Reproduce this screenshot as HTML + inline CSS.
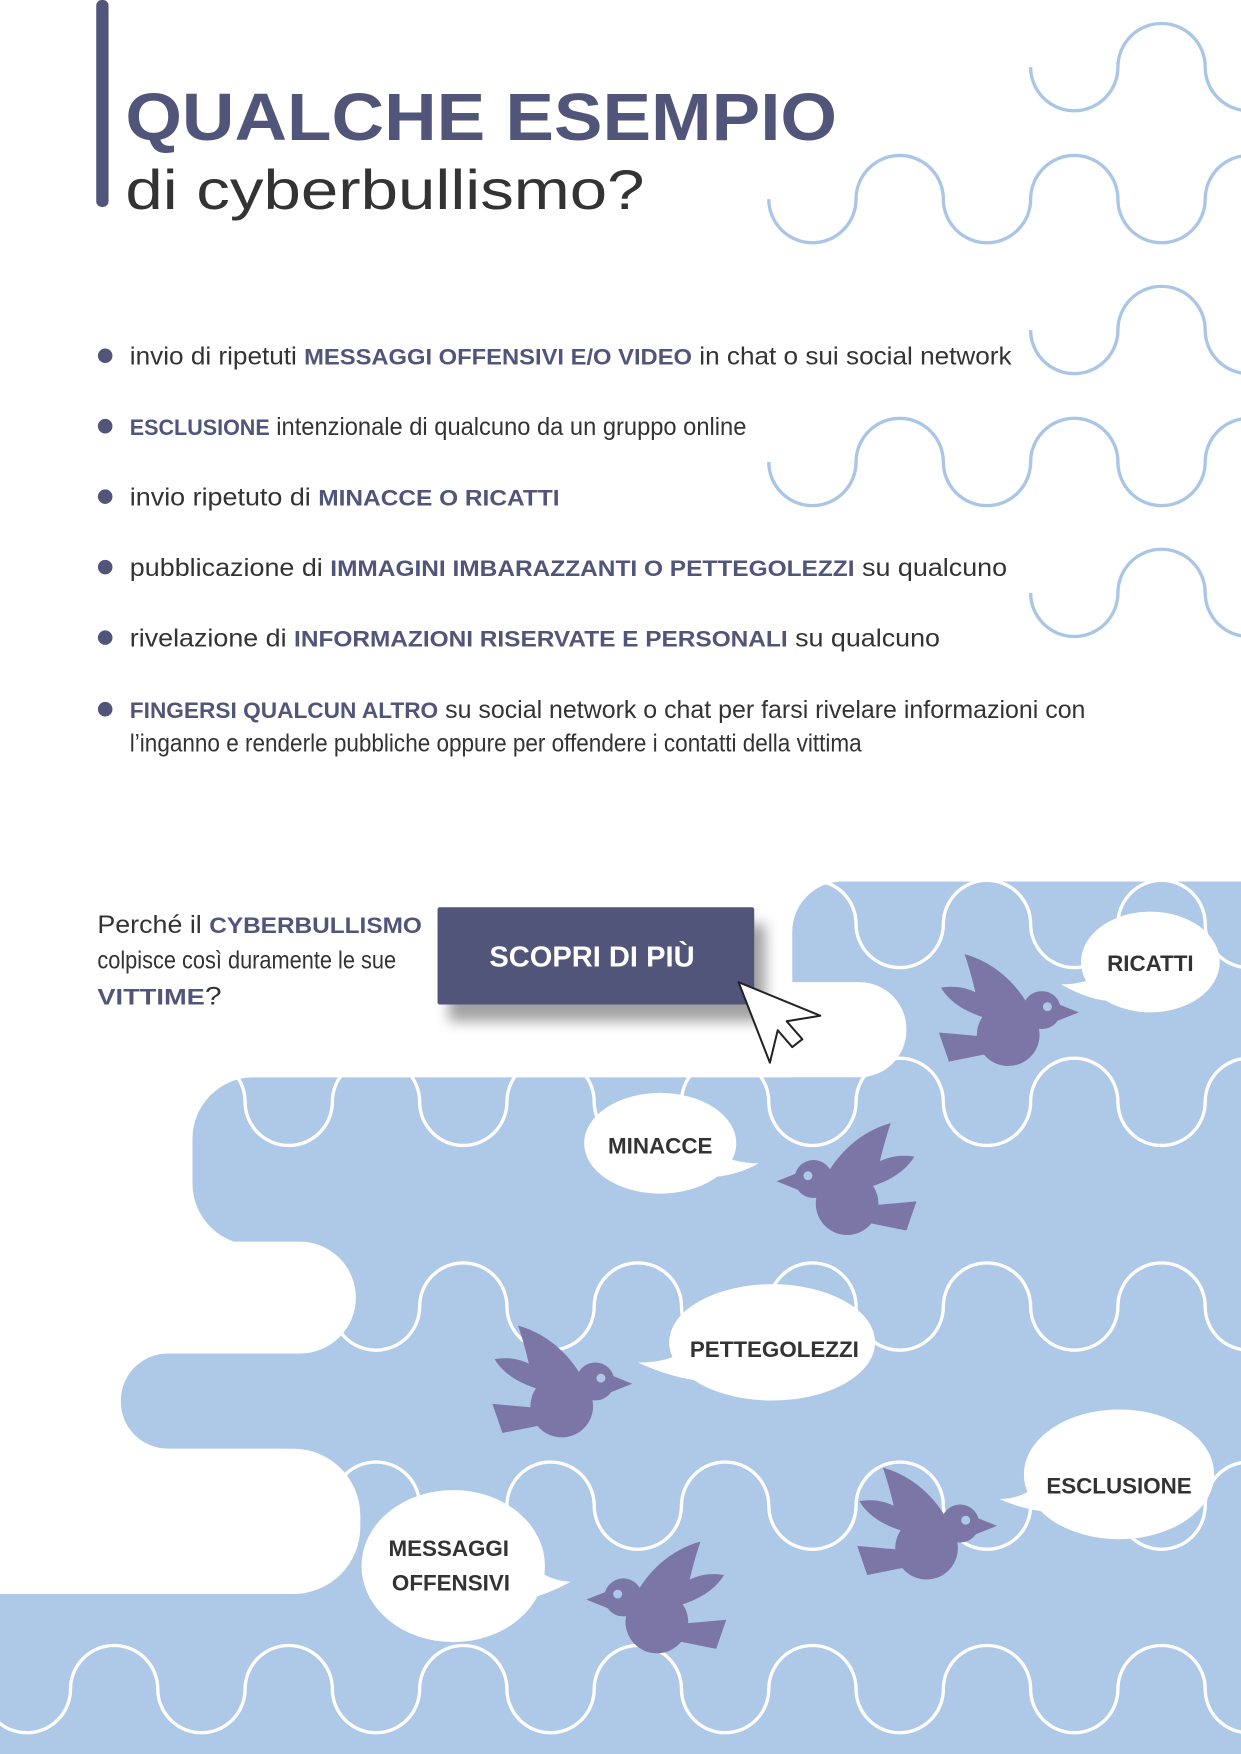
<!DOCTYPE html>
<html><head><meta charset="utf-8"><style>
html,body{margin:0;padding:0;background:#fff}
svg{display:block}
.t{font-family:"Liberation Sans Narrow","Liberation Sans",sans-serif;font-size:22px;fill:#333}
.b{font-family:"Liberation Sans",sans-serif;font-weight:bold;fill:#52557a;font-size:20px}
.bl{font-family:"Liberation Sans",sans-serif;font-weight:bold;fill:#333;font-size:20px;text-anchor:middle}
</style></head><body>
<svg width="1241" height="1754" viewBox="0 0 1109 1568" preserveAspectRatio="none" xmlns="http://www.w3.org/2000/svg">
<defs>
<mask id="m" maskUnits="userSpaceOnUse" x="0" y="700" width="1109" height="900">
<rect x="708" y="788" width="500" height="260" rx="45" fill="#fff"/>
<rect x="172" y="963" width="1100" height="150" rx="55" fill="#fff"/>
<rect x="250" y="1050" width="900" height="600" fill="#fff"/>
<rect x="0" y="1425" width="1109" height="200" fill="#fff"/>
<rect x="-100" y="878" width="910" height="85" rx="42" fill="#000"/>
<rect x="-100" y="1110" width="418" height="100" rx="50" fill="#000"/>
<rect x="-100" y="1295" width="422" height="130" rx="60" fill="#000"/>
<rect x="108" y="1210" width="400" height="85" rx="42" fill="#fff"/>
</mask>
<g id="bird">
<circle cx="65" cy="72" r="28"/>
<circle cx="95" cy="50" r="17"/>
<path d="M108,44 L128,52 L108,60 Z"/>
<path d="M40,55 C35,28 30,12 26,0 C55,8 76,30 86,52 Z"/>
<path d="M48,58 C26,52 12,42 5,30 C22,27 38,32 52,46 Z"/>
<path d="M48,74 L3,70 L12,96 L52,88 Z"/>
<circle cx="100" cy="47" r="4" fill="#aec8e7"/>
</g>
<filter id="sh" x="-20%" y="-20%" width="150%" height="170%"><feGaussianBlur stdDeviation="6"/></filter>
</defs>

<!-- header -->
<rect x="86" y="0" width="11" height="185" rx="5" fill="#52557a"/>
<text x="112" y="125" font-family="Liberation Sans,sans-serif" font-weight="bold" font-size="60" fill="#52557a" textLength="636" lengthAdjust="spacingAndGlyphs">QUALCHE ESEMPIO</text>
<text x="112" y="187" font-family="Liberation Sans,sans-serif" font-size="50" fill="#333" textLength="464" lengthAdjust="spacingAndGlyphs">di cyberbullismo?</text>

<!-- top waves -->
<g fill="none" stroke="#aac6e6" stroke-width="3">
<path d="M921 60 a39 39 0 0 0 78 0 a39 39 0 0 1 78 0 a39 39 0 0 0 78 0"/>
<path d="M687 178 a39 39 0 0 0 78 0 a39 39 0 0 1 78 0 a39 39 0 0 0 78 0 a39 39 0 0 1 78 0 a39 39 0 0 0 78 0 a39 39 0 0 1 78 0"/>
<path d="M921 295 a39 39 0 0 0 78 0 a39 39 0 0 1 78 0 a39 39 0 0 0 78 0"/>
<path d="M687 413 a39 39 0 0 0 78 0 a39 39 0 0 1 78 0 a39 39 0 0 0 78 0 a39 39 0 0 1 78 0 a39 39 0 0 0 78 0 a39 39 0 0 1 78 0"/>
<path d="M921 530 a39 39 0 0 0 78 0 a39 39 0 0 1 78 0 a39 39 0 0 0 78 0"/>
</g>

<!-- bullets -->
<g fill="#52557a">
<circle cx="94" cy="318" r="6.5"/><circle cx="94" cy="381" r="6.5"/><circle cx="94" cy="444" r="6.5"/>
<circle cx="94" cy="507" r="6.5"/><circle cx="94" cy="570" r="6.5"/><circle cx="94" cy="634" r="6.5"/>
</g>
<text class="t" x="116" y="326" textLength="788" lengthAdjust="spacingAndGlyphs">invio di ripetuti <tspan class="b">MESSAGGI OFFENSIVI E/O VIDEO</tspan> in chat o sui social network</text>
<text class="t" x="116" y="389" textLength="551" lengthAdjust="spacingAndGlyphs"><tspan class="b">ESCLUSIONE</tspan> intenzionale di qualcuno da un gruppo online</text>
<text class="t" x="116" y="452" textLength="384" lengthAdjust="spacingAndGlyphs">invio ripetuto di <tspan class="b">MINACCE O RICATTI</tspan></text>
<text class="t" x="116" y="515" textLength="784" lengthAdjust="spacingAndGlyphs">pubblicazione di <tspan class="b">IMMAGINI IMBARAZZANTI O PETTEGOLEZZI</tspan> su qualcuno</text>
<text class="t" x="116" y="578" textLength="724" lengthAdjust="spacingAndGlyphs">rivelazione di <tspan class="b">INFORMAZIONI RISERVATE E PERSONALI</tspan> su qualcuno</text>
<text class="t" x="116" y="642" textLength="854" lengthAdjust="spacingAndGlyphs"><tspan class="b">FINGERSI QUALCUN ALTRO</tspan> su social network o chat per farsi rivelare informazioni con</text>
<text class="t" x="116" y="672" textLength="654" lengthAdjust="spacingAndGlyphs">l’inganno e renderle pubbliche oppure per offendere i contatti della vittima</text>

<!-- blue area -->
<g mask="url(#m)">
<rect x="0" y="780" width="1109" height="800" fill="#aec8e7"/>
<g fill="none" stroke="#fff" stroke-width="3">
<path d="M687 826 a39 39 0 0 1 78 0 a39 39 0 0 0 78 0 a39 39 0 0 1 78 0 a39 39 0 0 0 78 0 a39 39 0 0 1 78 0 a39 39 0 0 0 78 0"/>
<path d="M63 985 a39 39 0 0 0 78 0 a39 39 0 0 1 78 0 a39 39 0 0 0 78 0 a39 39 0 0 1 78 0 a39 39 0 0 0 78 0 a39 39 0 0 1 78 0 a39 39 0 0 0 78 0 a39 39 0 0 1 78 0 a39 39 0 0 0 78 0 a39 39 0 0 1 78 0 a39 39 0 0 0 78 0 a39 39 0 0 1 78 0 a39 39 0 0 0 78 0 a39 39 0 0 1 78 0 a39 39 0 0 0 78 0"/>
<path d="M63 1168 a39 39 0 0 1 78 0 a39 39 0 0 0 78 0 a39 39 0 0 1 78 0 a39 39 0 0 0 78 0 a39 39 0 0 1 78 0 a39 39 0 0 0 78 0 a39 39 0 0 1 78 0 a39 39 0 0 0 78 0 a39 39 0 0 1 78 0 a39 39 0 0 0 78 0 a39 39 0 0 1 78 0 a39 39 0 0 0 78 0 a39 39 0 0 1 78 0 a39 39 0 0 0 78 0 a39 39 0 0 1 78 0"/>
<path d="M63 1346 a39 39 0 0 0 78 0 a39 39 0 0 1 78 0 a39 39 0 0 0 78 0 a39 39 0 0 1 78 0 a39 39 0 0 0 78 0 a39 39 0 0 1 78 0 a39 39 0 0 0 78 0 a39 39 0 0 1 78 0 a39 39 0 0 0 78 0 a39 39 0 0 1 78 0 a39 39 0 0 0 78 0 a39 39 0 0 1 78 0 a39 39 0 0 0 78 0 a39 39 0 0 1 78 0 a39 39 0 0 0 78 0"/>
<path d="M-15 1510 a39 39 0 0 0 78 0 a39 39 0 0 1 78 0 a39 39 0 0 0 78 0 a39 39 0 0 1 78 0 a39 39 0 0 0 78 0 a39 39 0 0 1 78 0 a39 39 0 0 0 78 0 a39 39 0 0 1 78 0 a39 39 0 0 0 78 0 a39 39 0 0 1 78 0 a39 39 0 0 0 78 0 a39 39 0 0 1 78 0 a39 39 0 0 0 78 0 a39 39 0 0 1 78 0 a39 39 0 0 0 78 0 a39 39 0 0 1 78 0"/>
</g>
</g>

<!-- left question + button -->
<text class="t" x="87" y="834" textLength="290" lengthAdjust="spacingAndGlyphs">Perché il <tspan class="b">CYBERBULLISMO</tspan></text>
<text class="t" x="87" y="866" textLength="267" lengthAdjust="spacingAndGlyphs">colpisce così duramente le sue</text>
<text class="t" x="87" y="898" textLength="111" lengthAdjust="spacingAndGlyphs"><tspan class="b">VITTIME</tspan>?</text>
<rect x="401" y="826" width="283" height="87" fill="#555" opacity="0.55" filter="url(#sh)"/>
<rect x="391" y="811" width="283" height="87" rx="2" fill="#52557a"/>
<text x="529" y="864" font-family="Liberation Sans,sans-serif" font-weight="bold" font-size="26" fill="#fff" text-anchor="middle">SCOPRI DI PIÙ</text>
<path d="M660 878 L733 908 L703 913 L717 929 L708 936 L695 921 L688 950 Z" fill="#fff" stroke="#222" stroke-width="1.8" stroke-linejoin="round"/>

<!-- bubbles -->
<g fill="#fff">
<ellipse cx="1028" cy="860" rx="62" ry="45"/><path d="M985 870 Q970 880 948 880 Q975 895 995 895 Z"/>
<ellipse cx="590" cy="1022" rx="68" ry="45"/><path d="M640 1030 Q655 1040 678 1040 Q660 1050 640 1052 Z"/>
<ellipse cx="690" cy="1200" rx="92" ry="52"/><path d="M615 1205 Q600 1218 570 1218 Q600 1232 630 1235 Z"/>
<ellipse cx="1000" cy="1318" rx="85" ry="58"/><path d="M930 1325 Q915 1340 893 1340 Q915 1350 940 1352 Z"/>
<ellipse cx="405" cy="1400" rx="82" ry="68"/><path d="M475 1395 Q485 1413 510 1414 Q490 1425 470 1430 Z"/>
</g>
<text class="bl" x="1028" y="868">RICATTI</text>
<text class="bl" x="590" y="1031">MINACCE</text>
<text class="bl" x="692" y="1213">PETTEGOLEZZI</text>
<text class="bl" x="1000" y="1335">ESCLUSIONE</text>
<text class="bl" x="401" y="1391">MESSAGGI</text>
<text class="bl" x="403" y="1422">OFFENSIVI</text>

<!-- birds -->
<g fill="#7b76a5">
<use href="#bird" transform="translate(836,853)"/>
<use href="#bird" transform="translate(822,1004) scale(-1,1)"/>
<use href="#bird" transform="translate(437,1185)"/>
<use href="#bird" transform="translate(763,1312)"/>
<use href="#bird" transform="translate(652,1378) scale(-1,1)"/>
</g>
</svg>
</body></html>
